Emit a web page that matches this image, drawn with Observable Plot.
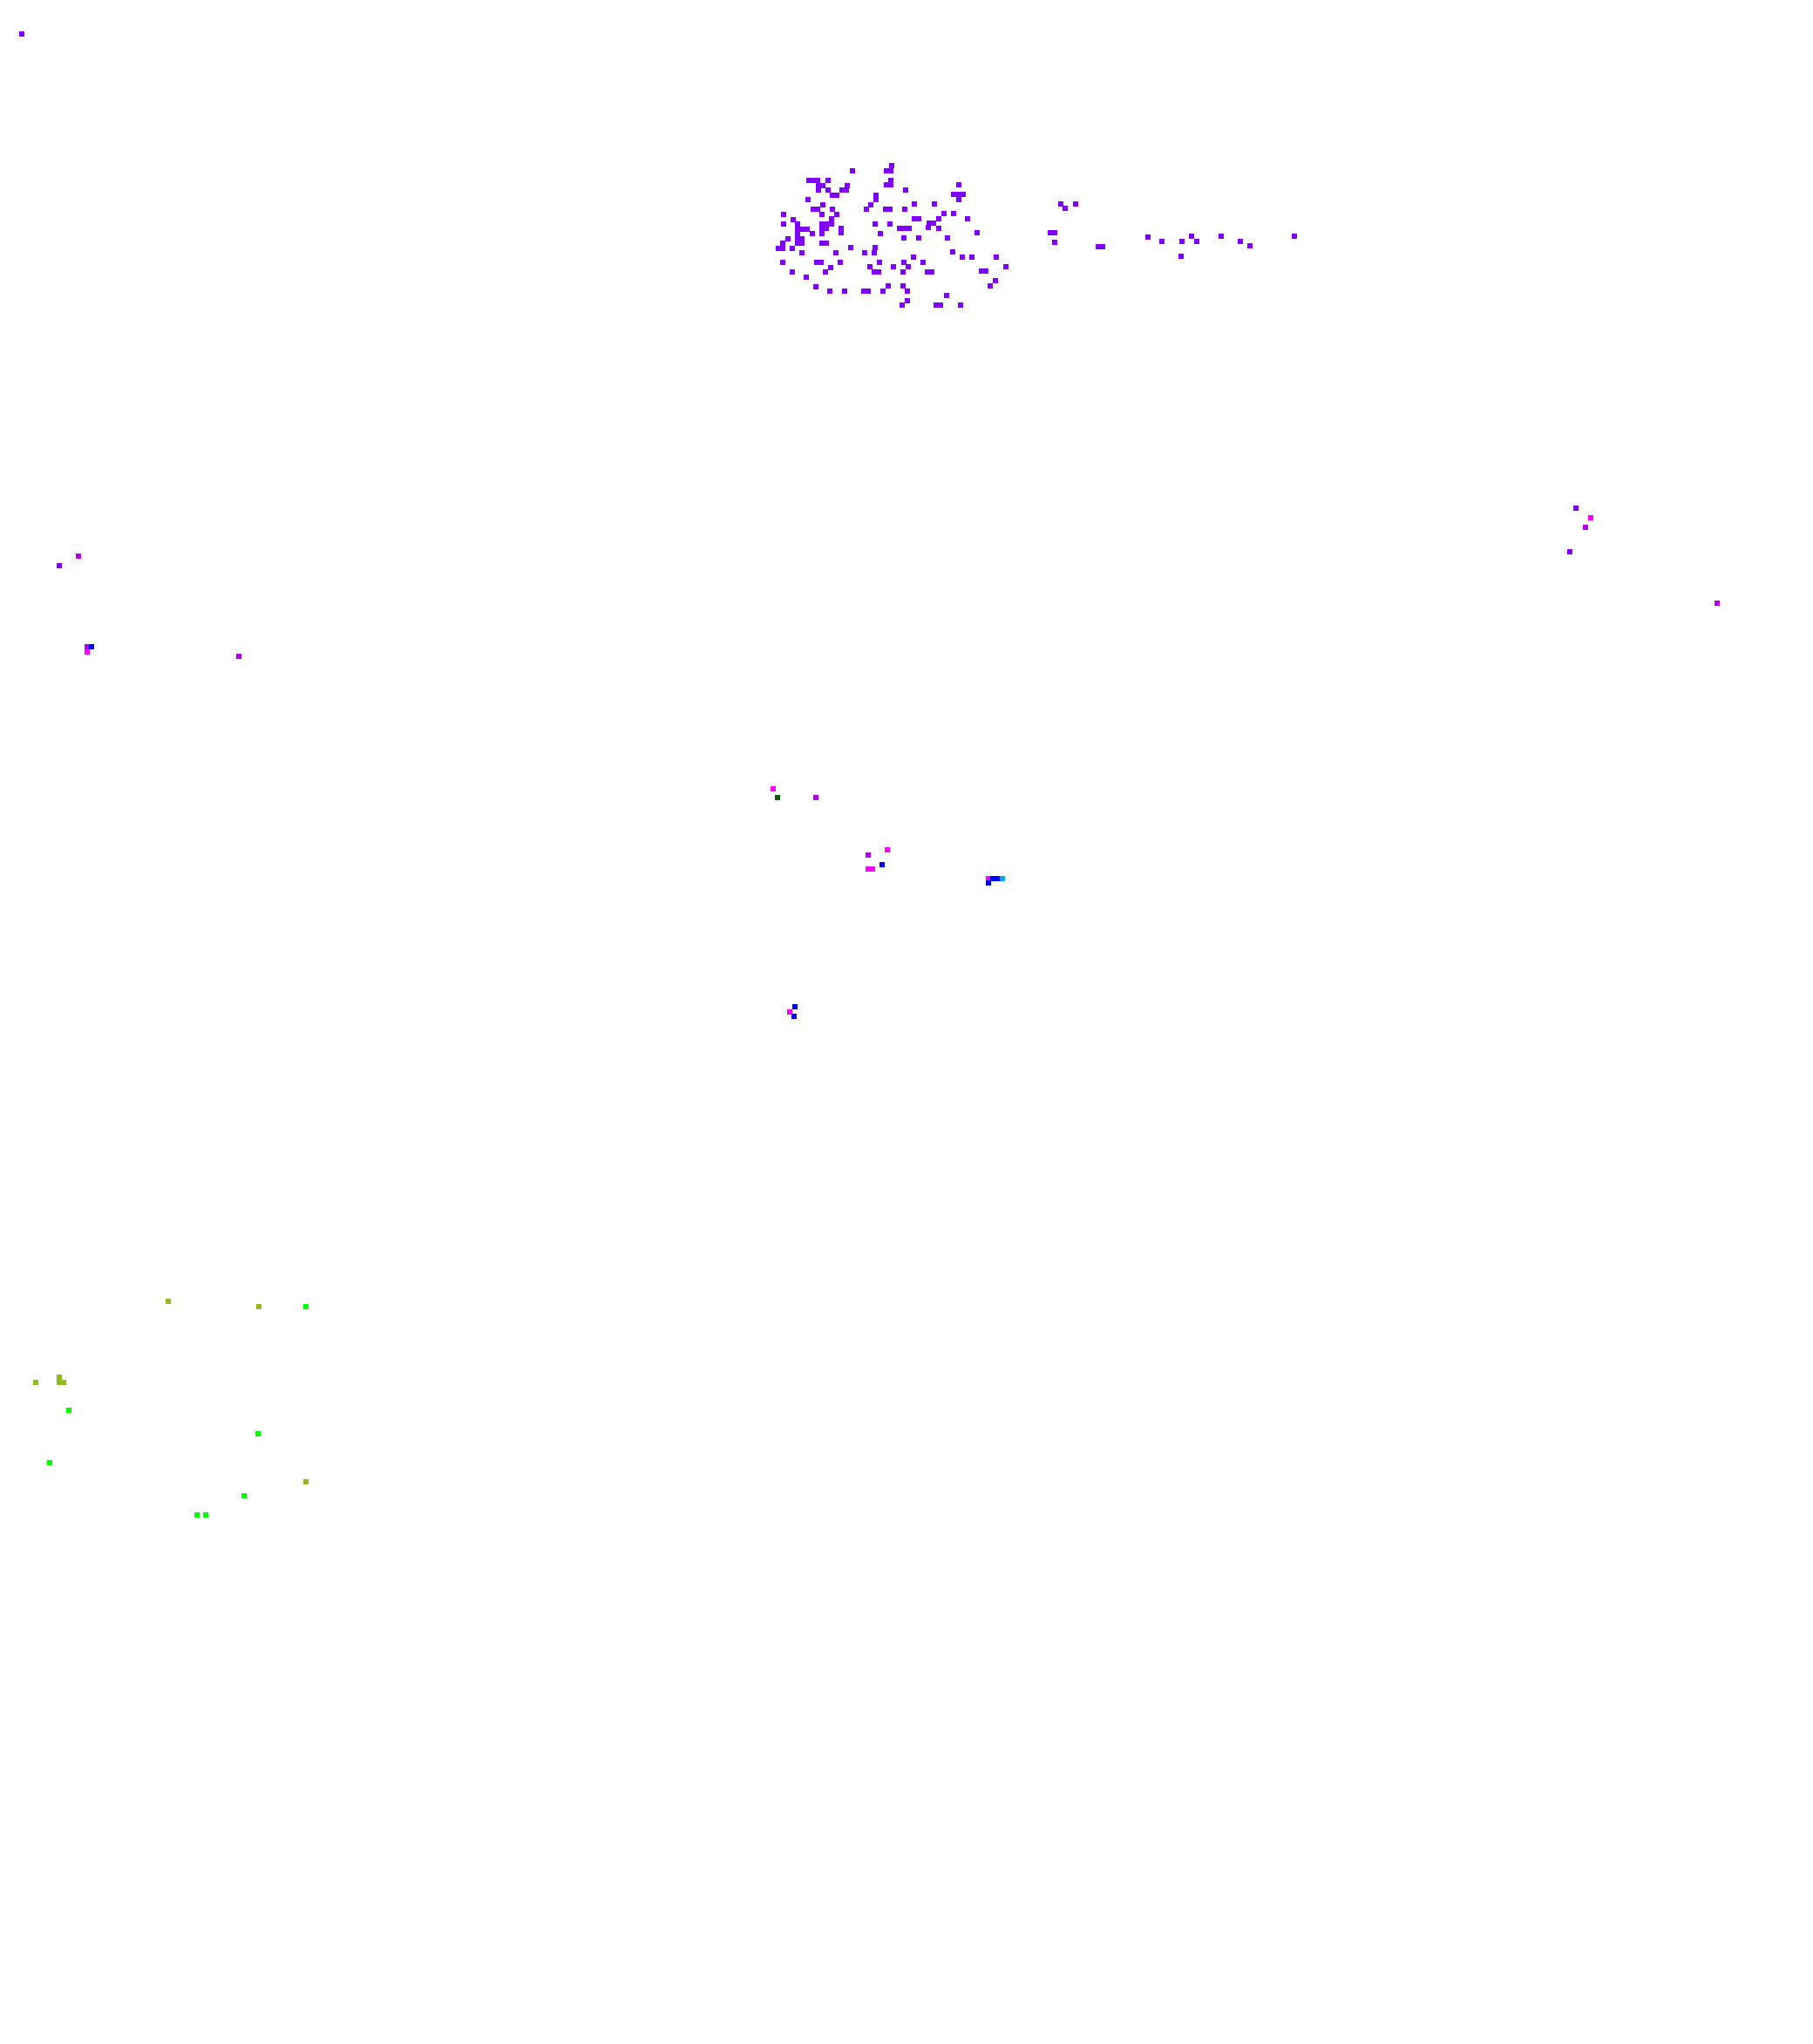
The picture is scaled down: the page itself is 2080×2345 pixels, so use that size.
<!DOCTYPE html>
<html>
<head>
<meta charset="utf-8">
<script src="https://cdn.jsdelivr.net/npm/d3@7"></script>
<script src="https://cdn.jsdelivr.net/npm/@observablehq/plot@0.6"></script>
<style>
html,body{margin:0;padding:0;background:#fff}
svg{display:block}
</style>
</head>
<body>
<div id="chart"></div>
<script>
const classA = [[22,36],
[1020,187],[1014,193],[1019.5,193],[975,193],
[925,204],[930.5,204],[935.5,204],[947,204],[1019,204],
[936,210],[941.5,210],[969,210],[1014,209],[1019.5,209],[1097,209],
[936,215],[947,215],[963,215],[968.5,215],[1036,215],
[952,221],[957.5,221],[1002,221],[1091,220],[1096.5,220],[1102,220],
[924,226],[1002,226],[1097,226],
[941,232],[996,232],[1046,231],[1069,231],
[930,237],[935.5,237],[952,237],[991,237],[1013,237],[1018.5,237],[1035,237],
[896,243],[940,243],[957,243],[1080,242],[1091,242],
[907,249],[951,248],[1046,248],[1051.5,248],[1074,248],[1107,248],
[896,254],[912,254],[940,254],[945.5,254],[951,254],[1001,254],[1018,254],[1063,253],[1068.5,253],
[912,260],[917.5,260],[923,260],[940,259],[945.5,259],[962,259],[1029,259],[1034.5,259],[1040,259],[1062,258],[1074,259],
[912,265],[929,265],[940,265],[1007,265],[962,264],[1118,264],
[901,271],[912,271],[917.5,271],[1034,270],[1051,270],[1084,270],
[895,276],[912,276],[917.5,276],[940,276],[945.5,276],
[890,282],[895.5,282],[906,282],[973,281],[1001,281],
[917,287],[956,287],[989,287],[1000,287],[1090,286],
[1045,292],[1101,292],[1112,292],[1140,292],
[895,298],[934,298],[939.5,298],[961,298],[1006,298],[1034,298],[1056,298],
[950,304],[995,303],[1039,303],[1022,303],[1151,303],
[906,309],[944,309],[1000,309],[1005.5,309],[1033,309],[1061,309],[1066.5,309],[1123,308],[1128.5,308],
[922,315],[1139,319],
[933,326],[1016,325],[1033,325],[1133,325],
[949,331],[966,331],[988,331],[993.5,331],[1010,331],[1038,331],
[1083,336],[1038,342],
[1032,347],[1071,347],[1076.5,347],[1099,347],
[1214,231],[1219,236],[1231,231],
[1202,264],[1207.5,264],[1207,275],[1257,280],[1262.5,280],
[1314,269],[1330,274],[1353,274],[1364,268],[1370,274],[1398,268],[1420,274],[1431,279],[1482,268],[1352,291],
[65,646],[1805,580],[1798,630]];
const classB = [[87,635],[97,739],[271,750],[1816,602],[1967,689],[933,912],[993,978]];
const classC = [[97,745],[1822,591],[884,902],[1015,972],[993,994],[998.5,994],[1131,1005],[903,1158]];
const classD = [[102,739],[1009,989],[1136,1005],[1141.5,1005],[1131,1010],[909,1152],[908,1163]];
const classE = [[1147,1005]];
const classF = [[889,912]];
const classG = [[190,1490],[294,1496],[38,1583],[65,1577],[65,1583],[70.5,1583],[348,1697]];
const classH = [[348,1496],[76,1615],[293,1642],[54,1675],[277,1713],[223,1735],[233,1735]];

const series = [
  {name:"A", pts:classA, color:"#7f00ff"},
  {name:"B", pts:classB, color:"#b000ee"},
  {name:"C", pts:classC, color:"#ff00ff"},
  {name:"D", pts:classD, color:"#0000ff"},
  {name:"E", pts:classE, color:"#00aaff"},
  {name:"F", pts:classF, color:"#006400"},
  {name:"G", pts:classG, color:"#8fbc1c"},
  {name:"H", pts:classH, color:"#00ff00"}
];
const cell = 5.5;
const rows = series.flatMap(s => s.pts.map(([x,y]) => ({x,y,name:s.name})));

const chart = Plot.plot({
  width:2080, height:2345,
  margin:0,
  style:{background:"#fff"},
  x:{domain:[0,2080], range:[0,2080], axis:null},
  y:{domain:[0,2345], range:[0,2345], axis:null},
  color:{type:"ordinal", domain:series.map(s=>s.name), range:series.map(s=>s.color)},
  marks:[
    Plot.rect(rows,{
      x1:"x", x2:d=>d.x+cell,
      y1:"y", y2:d=>d.y+cell,
      fill:"name",
      shapeRendering:"crispEdges"
    })
  ]
});
document.getElementById("chart").append(chart);
</script>
</body>
</html>
